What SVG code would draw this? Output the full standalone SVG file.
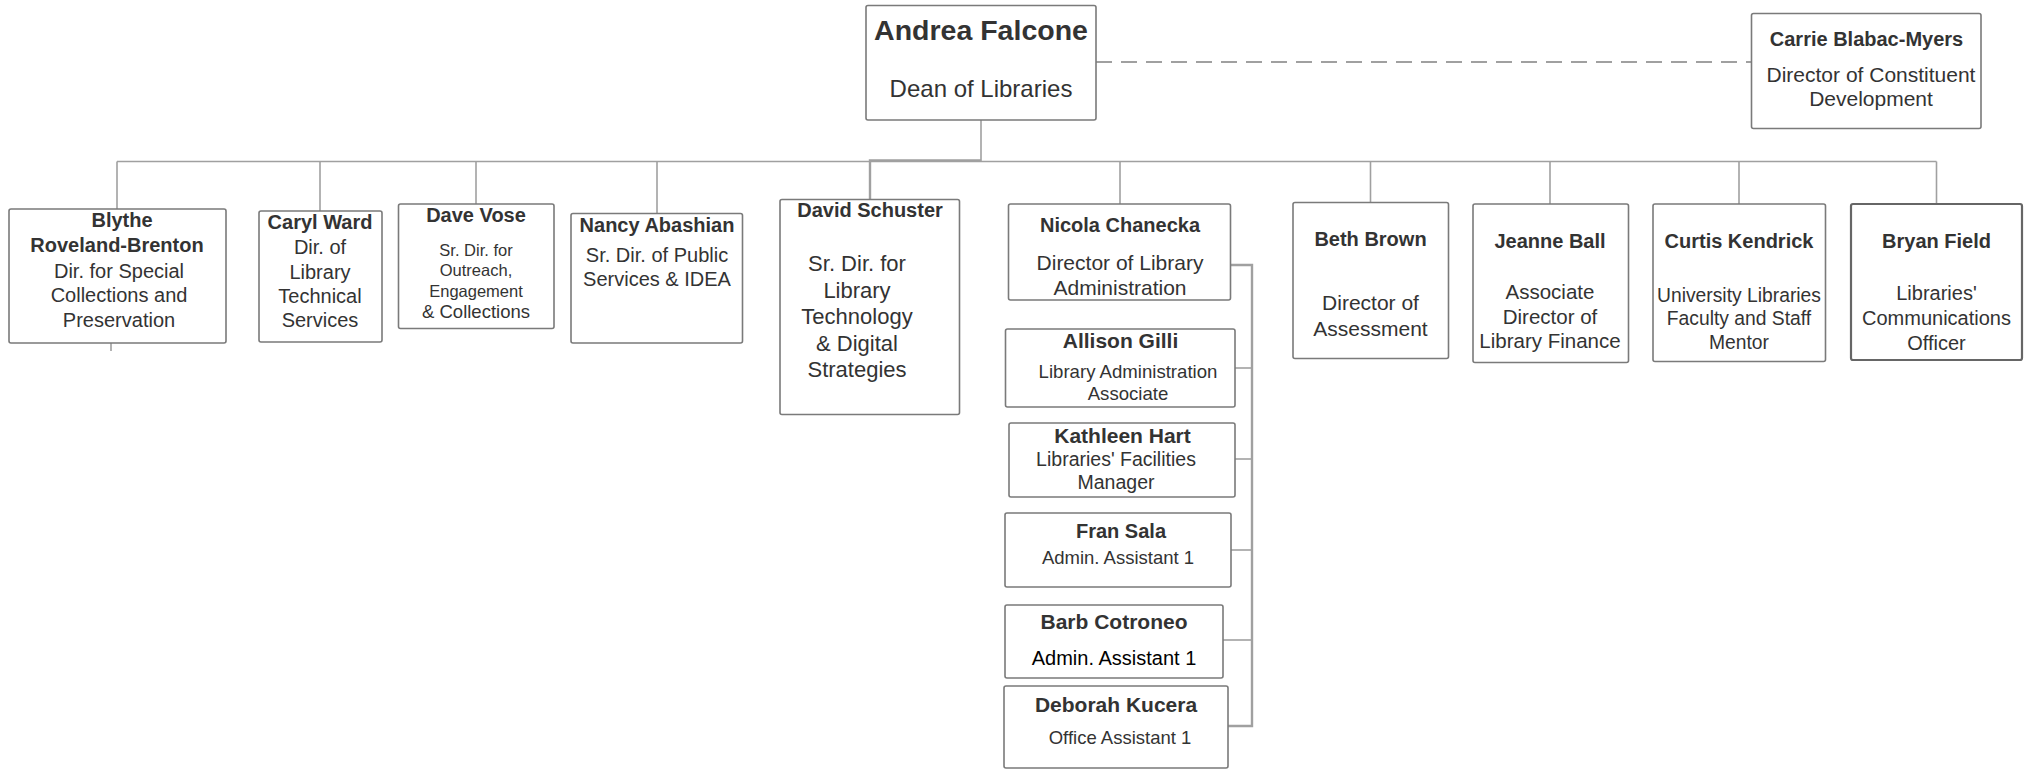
<svg xmlns="http://www.w3.org/2000/svg" width="2031" height="769" viewBox="0 0 2031 769">
<style>
.box{fill:#fff;stroke:#7a7a7a;stroke-width:1.6}
.strong{stroke:#666;stroke-width:2.2}
.c{fill:none;stroke:#a0a0a0;stroke-width:1.6}
.cw{fill:none;stroke:#a0a0a0;stroke-width:2.4}
.dash{fill:none;stroke:#a0a0a0;stroke-width:2;stroke-dasharray:16 9}
text{font-family:"Liberation Sans",Arial,sans-serif;fill:#333;text-anchor:middle}
.n{font-weight:bold;font-size:20px}
.t{font-size:20px}
</style>
<rect width="2031" height="769" fill="#fff"/>
<g id="connectors">
<path class="dash" d="M1096 62 H1751"/>
<path class="c" d="M981 120 V161.5"/>
<path class="c" d="M117 161.5 H1936.5"/>
<path class="cw" d="M981 160.5 H870 V199.5"/>
<path class="c" d="M117 161.5 V209"/>
<path class="c" d="M320 161.5 V211"/>
<path class="c" d="M476 161.5 V204"/>
<path class="c" d="M657 161.5 V213.5"/>
<path class="c" d="M1120 161.5 V204"/>
<path class="c" d="M1370.5 161.5 V202.5"/>
<path class="c" d="M1550 161.5 V204"/>
<path class="c" d="M1739 161.5 V204"/>
<path class="c" d="M1936.5 161.5 V204"/>
<path class="cw" d="M1231 265 H1252 V726 H1228"/>
<path class="c" d="M1235 368 H1252"/>
<path class="c" d="M1235 459 H1252"/>
<path class="c" d="M1231 550 H1252"/>
<path class="c" d="M1223 640 H1252"/>
<path class="c" d="M111 343 V351"/>
<path class="c" d="M476 319 V326"/>
</g>
<g id="andrea">
<rect class="box" x="866" y="5.5" width="230" height="114.5" rx="2"/>
<text x="981" y="39.5" style="font-weight:bold;font-size:28.5px">Andrea Falcone</text>
<text x="981" y="96.5" style="font-size:24px">Dean of Libraries</text>
</g>
<g id="carrie">
<rect class="box" x="1751.5" y="13.5" width="229.5" height="115" rx="2"/>
<text class="n" x="1866.5" y="46">Carrie Blabac-Myers</text>
<text x="1871" y="81.5" style="font-size:21px">Director of Constituent</text>
<text x="1871" y="106" style="font-size:21px">Development</text>
</g>
<g id="blythe">
<rect class="box" x="9" y="209" width="217" height="134" rx="2"/>
<text class="n" x="122" y="227">Blythe</text>
<text class="n" x="117" y="251.5">Roveland-Brenton</text>
<text class="t" x="119" y="278">Dir. for Special</text>
<text class="t" x="119" y="302">Collections and</text>
<text class="t" x="119" y="326.5">Preservation</text>
</g>
<g id="caryl">
<rect class="box" x="259" y="211" width="123" height="131" rx="2"/>
<text class="n" x="320" y="229">Caryl Ward</text>
<text class="t" x="320" y="254">Dir. of</text>
<text class="t" x="320" y="278.5">Library</text>
<text class="t" x="320" y="303">Technical</text>
<text class="t" x="320" y="326.5">Services</text>
</g>
<g id="dave">
<rect class="box" x="398.5" y="204" width="155.5" height="124.5" rx="2"/>
<text class="n" x="476" y="222">Dave Vose</text>
<text x="476" y="255.5" style="font-size:16.5px">Sr. Dir. for</text>
<text x="476" y="276" style="font-size:16.5px">Outreach,</text>
<text x="476" y="296.5" style="font-size:16.5px">Engagement</text>
<text x="476" y="318" style="font-size:18.5px">&amp; Collections</text>
</g>
<g id="nancy">
<rect class="box" x="571" y="213.5" width="171.5" height="129.5" rx="2"/>
<text class="n" x="657" y="231.5">Nancy Abashian</text>
<text class="t" x="657" y="261.5">Sr. Dir. of Public</text>
<text class="t" x="657" y="285.5">Services &amp; IDEA</text>
</g>
<g id="david">
<rect class="box" x="780" y="199.5" width="179.5" height="215" rx="2"/>
<text class="n" x="870" y="217">David Schuster</text>
<text x="857" y="271" style="font-size:22px">Sr. Dir. for</text>
<text x="857" y="297.5" style="font-size:22px">Library</text>
<text x="857" y="324" style="font-size:22px">Technology</text>
<text x="857" y="350.5" style="font-size:22px">&amp; Digital</text>
<text x="857" y="377" style="font-size:22px">Strategies</text>
</g>
<g id="nicola">
<rect class="box" x="1008.5" y="204" width="222" height="96" rx="2"/>
<text class="n" x="1120" y="232">Nicola Chanecka</text>
<text x="1120" y="270" style="font-size:21px">Director of Library</text>
<text x="1120" y="295" style="font-size:21px">Administration</text>
</g>
<g id="allison">
<rect class="box" x="1005.5" y="329" width="229.5" height="78" rx="2"/>
<text x="1120.5" y="347.5" style="font-weight:bold;font-size:21px">Allison Gilli</text>
<text x="1128" y="377.5" style="font-size:18.6px">Library Administration</text>
<text x="1128" y="400" style="font-size:18.6px">Associate</text>
</g>
<g id="kathleen">
<rect class="box" x="1009" y="423" width="226" height="74" rx="2"/>
<text x="1122.5" y="443" style="font-weight:bold;font-size:21px">Kathleen Hart</text>
<text x="1116" y="466" style="font-size:19.5px">Libraries' Facilities</text>
<text x="1116" y="488.5" style="font-size:19.5px">Manager</text>
</g>
<g id="fran">
<rect class="box" x="1005" y="513" width="226" height="74" rx="2"/>
<text class="n" x="1121" y="537.5">Fran Sala</text>
<text x="1118" y="564" style="font-size:18.5px">Admin. Assistant 1</text>
</g>
<g id="barb">
<rect class="box" x="1005" y="605" width="218" height="73" rx="2"/>
<text x="1114" y="628.5" style="font-weight:bold;font-size:21px">Barb Cotroneo</text>
<text x="1114" y="665" style="font-size:20px;fill:#000">Admin. Assistant 1</text>
</g>
<g id="deborah">
<rect class="box" x="1004" y="686" width="224" height="82" rx="2"/>
<text x="1116" y="712" style="font-weight:bold;font-size:21px">Deborah Kucera</text>
<text x="1120" y="744" style="font-size:18.5px">Office Assistant 1</text>
</g>
<g id="beth">
<rect class="box" x="1293" y="202.5" width="155.5" height="156" rx="2"/>
<text class="n" x="1370.5" y="245.5">Beth Brown</text>
<text x="1370.5" y="310" style="font-size:21px">Director of</text>
<text x="1370.5" y="335.5" style="font-size:21px">Assessment</text>
</g>
<g id="jeanne">
<rect class="box" x="1473" y="204" width="155.5" height="158.5" rx="2"/>
<text class="n" x="1550" y="248">Jeanne Ball</text>
<text x="1550" y="299" style="font-size:20.5px">Associate</text>
<text x="1550" y="323.5" style="font-size:20.5px">Director of</text>
<text x="1550" y="348" style="font-size:20.5px">Library Finance</text>
</g>
<g id="curtis">
<rect class="box" x="1653" y="204" width="172.5" height="157.5" rx="2"/>
<text class="n" x="1739" y="247.5">Curtis Kendrick</text>
<text x="1739" y="301.5" style="font-size:19.3px">University Libraries</text>
<text x="1739" y="325" style="font-size:19.3px">Faculty and Staff</text>
<text x="1739" y="348.5" style="font-size:19.3px">Mentor</text>
</g>
<g id="bryan">
<rect class="box strong" x="1851" y="204" width="171" height="156" rx="2"/>
<text class="n" x="1936.5" y="247.5">Bryan Field</text>
<text class="t" x="1936.5" y="300">Libraries'</text>
<text class="t" x="1936.5" y="325">Communications</text>
<text class="t" x="1936.5" y="349.5">Officer</text>
</g>
</svg>
